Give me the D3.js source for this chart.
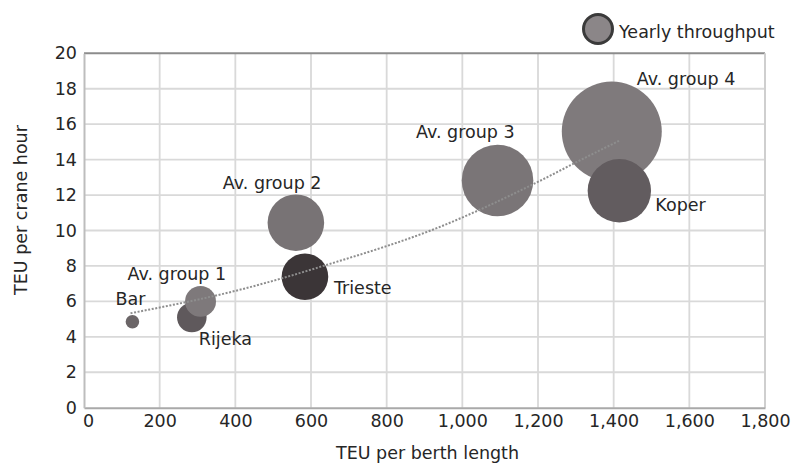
<!DOCTYPE html>
<html>
<head>
<meta charset="utf-8">
<script src="https://cdn.jsdelivr.net/npm/d3@7"></script>
<style>
  body { margin: 0; background: #fff; }
  text { font-family: "DejaVu Sans", sans-serif; fill: #262626; }
  .tick text { font-size: 17.5px; }
  .label-text { font-size: 17.5px; }
  .grid line { stroke: #d9d9d9; stroke-width: 1.8; }
</style>
</head>
<body>
<script>
// data
var ports = ["Bar", "Rijeka", "Av. group 1", "Trieste", "Av. group 2", "Av. group 3", "Av. group 4", "Koper"];
var teuBerth = [128, 285, 308, 584, 560, 1093, 1395, 1415];
var teuCrane = [4.85, 5.09, 6.0, 7.39, 10.44, 12.82, 15.58, 12.24];
var throughput = [26, 124, 136, 308, 454, 727, 1418, 570];   // thousand TEU (relative)
var shades = ["#6b6567", "#5f595c", "#7e797b", "#3b3537", "#787375", "#7a7577", "#7f7a7c", "#625c5f"];

// dotted trend line
var trendX = [123, 420, 640, 940, 1205, 1310, 1418];
var trendY = [5.33, 6.7, 8.05, 10.2, 12.8, 13.95, 15.1];

var xTicks = [0, 200, 400, 600, 800, 1000, 1200, 1400, 1600, 1800];
var yTicks = [0, 2, 4, 6, 8, 10, 12, 14, 16, 18, 20];

var margin = {top: 53.3, right: 30, bottom: 56.3, left: 84},
    width = 795 - margin.left - margin.right,
    height = 464 - margin.top - margin.bottom;

var root = d3.select("body").append("svg")
    .attr("width", 795)
    .attr("height", 464);

var svg = root.append("g")
    .attr("transform", "translate(" + margin.left + "," + margin.top + ")");

var x = d3.scaleLinear().domain([0, 1800]).range([0, width]);
var y = d3.scaleLinear().domain([0, 20]).range([height, 0]);
var r = d3.scaleSqrt().domain([0, 1418]).range([0, 50]);

// grid
svg.append("g")
    .attr("class", "grid")
    .selectAll("line.v")
    .data(xTicks.slice(1, -1))
    .enter()
    .append("line")
    .attr("x1", d => x(d)).attr("x2", d => x(d))
    .attr("y1", 0).attr("y2", height);

svg.append("g")
    .attr("class", "grid")
    .selectAll("line.h")
    .data(yTicks.slice(1, -1))
    .enter()
    .append("line")
    .attr("x1", 0).attr("x2", width)
    .attr("y1", d => y(d)).attr("y2", d => y(d));

// frame: darker on top, lighter on the right
svg.append("line").attr("x1", 0).attr("x2", width).attr("y1", 0).attr("y2", 0)
    .attr("stroke", "#8c8c8c").attr("stroke-width", 2);
svg.append("line").attr("x1", width).attr("x2", width).attr("y1", 0).attr("y2", height)
    .attr("stroke", "#cfcfcf").attr("stroke-width", 2);

// axes
var xAxis = svg.append("g")
    .attr("transform", "translate(0," + height + ")")
    .call(d3.axisBottom(x).tickValues(xTicks).tickSize(0).tickPadding(6)
        .tickFormat(d3.format(",")));
xAxis.select(".domain").attr("stroke", "#a9a9a9").attr("stroke-width", 2);
xAxis.selectAll(".tick text").attr("font-family", null).attr("dy", "0.78em");
xAxis.select(".tick text").attr("dx", 4);

var yAxis = svg.append("g")
    .call(d3.axisLeft(y).tickValues(yTicks).tickSize(0).tickPadding(7));
yAxis.select(".domain").attr("stroke", "#bdbdbd").attr("stroke-width", 2);
yAxis.selectAll(".tick text").attr("font-family", null);

// bubbles
var bubbles = ports.map(function(name, i) {
    return {name: name, bx: teuBerth[i], cy: teuCrane[i], t: throughput[i], color: shades[i]};
});

svg.selectAll(".bubble")
    .data(bubbles)
    .enter()
    .append("circle")
    .attr("class", "bubble")
    .attr("cx", d => x(d.bx))
    .attr("cy", d => y(d.cy))
    .attr("r", d => r(d.t))
    .attr("fill", d => d.color);

// trend line
var trend = trendX.map((v, i) => ({x: v, y: trendY[i]}));
var line = d3.line()
    .x(d => x(d.x))
    .y(d => y(d.y))
    .curve(d3.curveMonotoneX);

svg.append("path")
    .attr("d", line(trend))
    .attr("fill", "none")
    .attr("stroke", "#8e8e8e")
    .attr("stroke-width", 2)
    .attr("stroke-dasharray", "2,1.6");

// bubble labels, offsets from the bubble centre
var labelOffset = {
    "Bar": [-17, -17],
    "Rijeka": [7, 27.5],
    "Av. group 1": [-73, -21],
    "Trieste": [29, 17],
    "Av. group 2": [-73, -34],
    "Av. group 3": [-81.5, -42.5],
    "Av. group 4": [25, -46.7],
    "Koper": [36, 20]
};

svg.selectAll(".bubble-label")
    .data(bubbles)
    .enter()
    .append("text")
    .attr("class", "label-text")
    .attr("x", d => x(d.bx) + labelOffset[d.name][0])
    .attr("y", d => y(d.cy) + labelOffset[d.name][1])
    .text(d => d.name);

// axis titles
root.append("text")
    .attr("class", "label-text")
    .attr("x", 427.5)
    .attr("y", 459)
    .attr("text-anchor", "middle")
    .text("TEU per berth length");

root.append("text")
    .attr("class", "label-text")
    .attr("transform", "translate(27,210) rotate(-90)")
    .attr("text-anchor", "middle")
    .text("TEU per crane hour");

// legend
var legend = root.append("g")
    .attr("transform", "translate(598,29)");
legend.append("circle")
    .attr("r", 14.5)
    .attr("fill", "#8b8688")
    .attr("stroke", "#3a3a3a")
    .attr("stroke-width", 3);
legend.append("text")
    .attr("class", "label-text")
    .attr("x", 21)
    .attr("y", 9)
    .text("Yearly throughput");
</script>
</body>
</html>
